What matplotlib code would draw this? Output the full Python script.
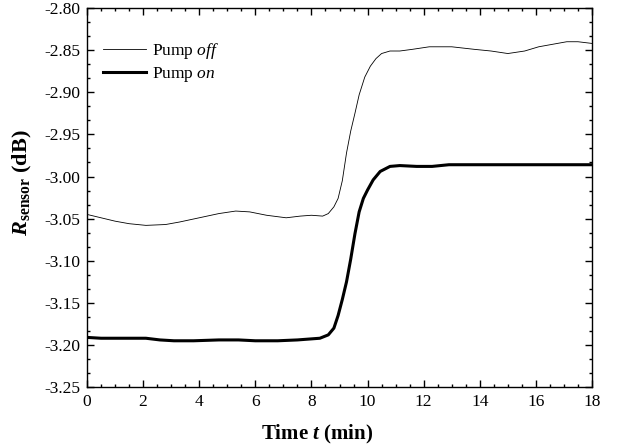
import matplotlib
matplotlib.use('Agg')
import matplotlib.pyplot as plt
from matplotlib.ticker import MultipleLocator, AutoMinorLocator

plt.rcParams['font.family'] = 'Liberation Serif'
plt.rcParams['mathtext.fontset'] = 'custom'
plt.rcParams['mathtext.rm'] = 'Liberation Serif'
plt.rcParams['mathtext.it'] = 'Liberation Serif:italic'
plt.rcParams['mathtext.bf'] = 'Liberation Serif:bold'
plt.rcParams['mathtext.cal'] = 'Liberation Serif:bold:italic'
plt.rcParams['axes.unicode_minus'] = False

# data
t_off = [0.0, 0.5, 1.0, 1.5, 2.1, 2.8, 3.3, 4.0, 4.7, 5.3, 5.8, 6.4, 7.1, 7.6, 8.0, 8.4,
         8.6, 8.8, 8.95, 9.1, 9.25, 9.4, 9.55, 9.7, 9.9, 10.1, 10.3, 10.5, 10.8, 11.15,
         11.6, 12.2, 13.0, 13.8, 14.4, 15.0, 15.6, 16.1, 16.6, 17.1, 17.5, 18.0]
r_off = [-3.045, -3.049, -3.053, -3.056, -3.058, -3.057, -3.054, -3.049, -3.044, -3.041,
         -3.042, -3.046, -3.049, -3.047, -3.046, -3.047, -3.044, -3.036, -3.026, -3.005,
         -2.972, -2.946, -2.925, -2.903, -2.882, -2.869, -2.860, -2.854, -2.851, -2.851,
         -2.849, -2.846, -2.846, -2.849, -2.851, -2.854, -2.851, -2.846, -2.843, -2.840,
         -2.840, -2.842]

t_on = [0.0, 0.5, 1.0, 2.1, 2.6, 3.1, 3.8, 4.7, 5.4, 6.0, 6.8, 7.5, 8.3, 8.6, 8.8, 8.95,
        9.1, 9.25, 9.4, 9.55, 9.7, 9.85, 10.0, 10.2, 10.45, 10.8, 11.15, 11.75, 12.3, 12.9,
        14.0, 15.0, 16.0, 17.0, 18.0]
r_on = [-3.191, -3.192, -3.192, -3.192, -3.194, -3.195, -3.195, -3.194, -3.194, -3.195,
        -3.195, -3.194, -3.192, -3.188, -3.180, -3.165, -3.146, -3.125, -3.098, -3.068,
        -3.042, -3.026, -3.016, -3.004, -2.994, -2.988, -2.987, -2.988, -2.988, -2.986,
        -2.986, -2.986, -2.986, -2.986, -2.986]

fig = plt.figure(figsize=(6.17, 4.47), dpi=100)
ax = fig.add_axes([0.141, 0.134, 0.8185, 0.848])

ax.plot(t_off, r_off, color='black', lw=0.6, label=r'Pump $\mathit{off}$')
ax.plot(t_on, r_on, color='black', lw=2.2, label=r'Pump $\mathit{on}$')

ax.set_xlim(0, 18)
ax.set_ylim(-3.25, -2.80)
ax.xaxis.set_major_locator(MultipleLocator(2))
ax.xaxis.set_minor_locator(AutoMinorLocator(4))
ax.yaxis.set_major_locator(MultipleLocator(0.05))
ax.yaxis.set_minor_locator(AutoMinorLocator(3))
ax.yaxis.set_major_formatter(matplotlib.ticker.FormatStrFormatter('%.2f'))
ax.tick_params(which='both', direction='in', top=True, right=True, labelsize=12.5, width=1)
ax.tick_params(which='major', length=5, pad=5)
ax.tick_params(which='minor', length=2.5)
for s in ax.spines.values():
    s.set_linewidth(1)

ax.set_xlabel(r'Time $\mathcal{t}$ (min)', fontsize=15, fontweight='bold')
ax.set_ylabel(r'$\mathcal{R}_{\mathbf{sensor}}$ (dB)', fontsize=16, fontweight='bold')
ax.xaxis.set_label_coords(0.456, -0.095)
ax.yaxis.set_label_coords(-0.105, 0.54)

ax.legend(loc='upper left', bbox_to_anchor=(0.0, 0.955), frameon=False, fontsize=12.5,
          handlelength=2.5, handletextpad=0.35, labelspacing=0.25)

fig.savefig('out.png', dpi=100)
